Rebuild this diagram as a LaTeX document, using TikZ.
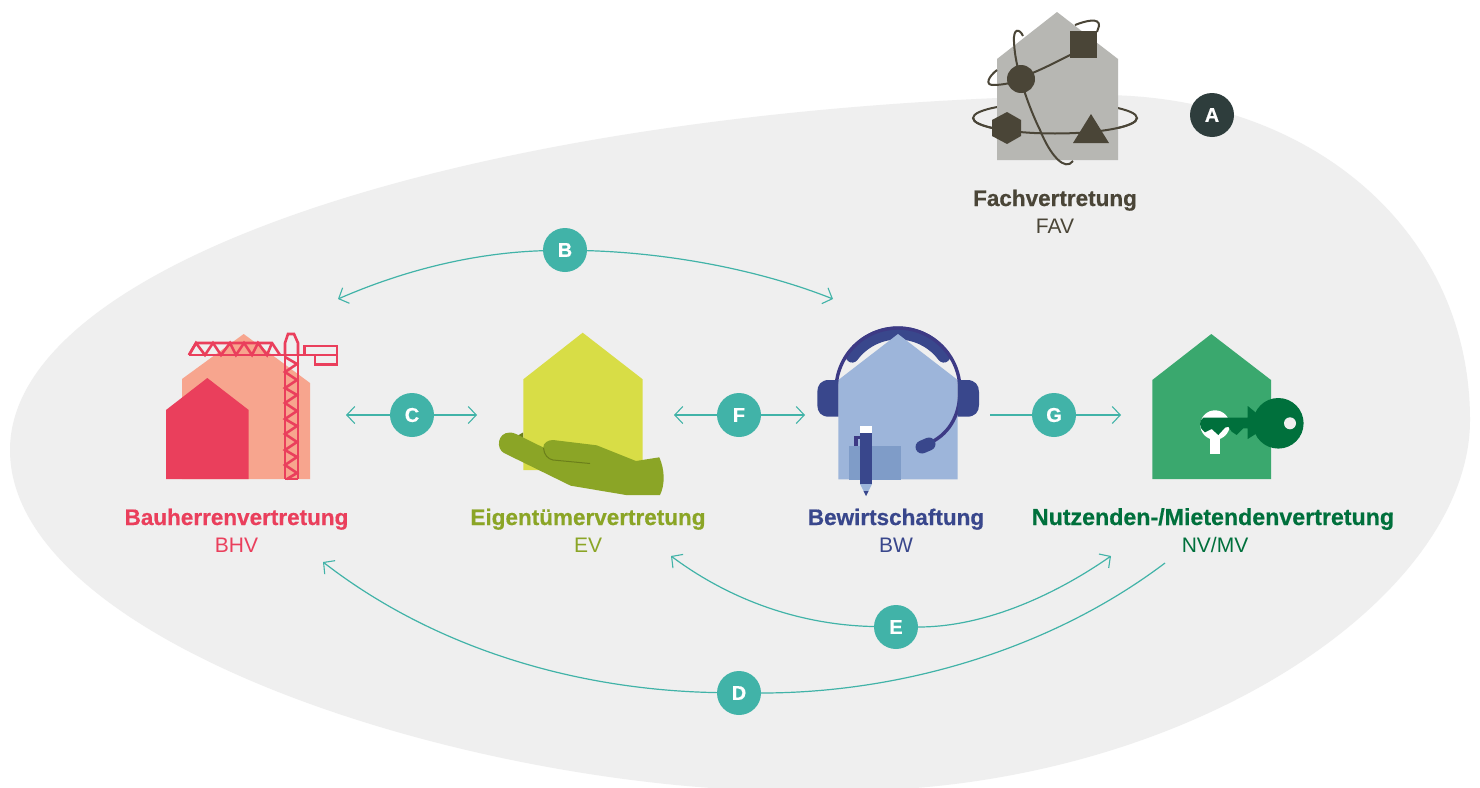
\documentclass[tikz,border=0pt]{standalone}
\usepackage{fontspec}
\setmainfont[BoldFeatures={FakeBold=0.5}]{Liberation Sans}
\usetikzlibrary{arrows.meta}
\definecolor{blob}{HTML}{EFEFEF}
\definecolor{teal1}{HTML}{41B3A8}
\definecolor{darkA}{HTML}{2E3D3C}
\definecolor{favhouse}{HTML}{B7B7B3}
\definecolor{favdark}{HTML}{4A4537}
\definecolor{bhvred}{HTML}{EA3F5C}
\definecolor{bhvsalmon}{HTML}{F7A58E}
\definecolor{evyellow}{HTML}{D8DD46}
\definecolor{evgreen}{HTML}{8BA526}
\definecolor{evdark}{HTML}{6B7F1A}
\definecolor{bwhouse}{HTML}{9DB5DA}
\definecolor{bwrect}{HTML}{7F9CC8}
\definecolor{bwdark}{HTML}{39478C}
\definecolor{bwline}{HTML}{3D3A85}
\definecolor{nvhouse}{HTML}{3AA86E}
\definecolor{nvdark}{HTML}{00703C}
\tikzset{
  link/.style={draw=teal1,line width=1.2pt},
  tipa/.style={-{Straight Barb[length=8pt,width=17pt,line width=1.1pt]}},
  letter/.style={circle,fill=teal1,minimum size=44pt,inner sep=0pt,text=white,font=\fontsize{20}{20}\selectfont\bfseries},
  title/.style={font=\fontsize{22.5}{24}\selectfont\bfseries,inner sep=0pt,anchor=base},
  abbr/.style={font=\fontsize{21}{24}\selectfont,inner sep=0pt,anchor=base},
  orbit/.style={draw=favdark,line width=2pt},
}
\begin{document}
\begin{tikzpicture}[x=1pt,y=-1pt]
\useasboundingbox (0,0) rectangle (1480,787);
\fill[white] (0,0) rectangle (1480,787);
\begin{scope}
\clip (0,0) rectangle (1480,787);
\fill[blob] (1100,95) .. controls (1310,95) and (1470,230) .. (1470,420)
  .. controls (1470,600) and (1180,795) .. (830,791)
  .. controls (500,800) and (10,650) .. (10,450)
  .. controls (10,260) and (480,105) .. (1100,95) -- cycle;
\end{scope}

% FAV icon
\draw[orbit] (1055,118) ellipse [x radius=82pt,y radius=15.5pt];
\draw[orbit] (1075,25) .. controls (1085,21) and (1100,17) .. (1099,26) -- (1097,32);
\fill[favhouse] (1057,12) -- (1118,59) -- (1118,160) -- (997,160) -- (997,59) -- cycle;
\begin{scope}
\clip (960,118) rectangle (1150,140);
\draw[orbit] (1055,118) ellipse [x radius=82pt,y radius=15.5pt];
\end{scope}
\draw[orbit] (997,70) .. controls (988,77) and (985,85) .. (993,85) .. controls (1000,85) and (1005,84) .. (1010,83);
\draw[orbit] (1030,74) .. controls (1045,68) and (1060,60) .. (1072,54);
\draw[orbit] (1023,36) .. controls (1020,29) and (1013,27) .. (1014,42)
  .. controls (1015,70) and (1030,110) .. (1040,130) .. controls (1050,155) and (1065,172) .. (1073,161);
\fill[favdark] (1070,31) rectangle (1097,58);
\fill[favdark] (1021,79) circle (14);
\fill[favdark] (1007,112) -- (1021,120) -- (1021,136) -- (1007,144) -- (992,136) -- (992,120) -- cycle;
\fill[favdark] (1091,114) -- (1109,143) -- (1073,143) -- cycle;
\node[title,text=favdark] (favt) at (1055,206) {Fachvertretung};
\node[abbr,text=favdark] (fava) at (1055,233) {FAV};

% BHV icon
\fill[bhvsalmon] (243.7,334) -- (310,383) -- (310,479) -- (182,479) -- (182,379) -- cycle;
\fill[bhvred] (207.3,378) -- (248.7,410) -- (248.7,479) -- (166,479) -- (166,410) -- cycle;
\begin{scope}[draw=bhvred,line width=2.6pt,line join=miter]
\draw (189,355) -- (305,355);
\draw (189,355) -- (196,343) -- (272,343) -- (280,355);
\draw (189,355) -- (196,343) -- (205,355) -- (213,343) -- (221,355) -- (230,343) -- (236,355) -- (244,343) -- (252,355) -- (258,343) -- (267,355) -- (272,343);
\draw (285,355) -- (285,343) -- (288,334) -- (294,334) -- (298,343) -- (298,355);
\draw (285,355) -- (285,479) (298,355) -- (298,479) (285,479) -- (298,479);
\draw (285,357) -- (297,364) -- (285,372) -- (297,380) -- (285,388) -- (297,395) -- (285,403) -- (297,411) -- (285,419) -- (297,426) -- (285,434) -- (297,442) -- (285,450) -- (297,457) -- (285,465) -- (297,473) -- (287,479);
\draw (304.3,346) rectangle (337,355);
\draw (315,355) rectangle (337,364.7);
\end{scope}
\node[title,text=bhvred] (bhvt) at (236.5,525) {Bauherrenvertretung};
\node[abbr,text=bhvred] (bhva) at (236.5,552) {BHV};

% EV icon
\fill[evyellow] (582.7,332.7) -- (642.7,379.3) -- (642.7,470) -- (523.3,470) -- (523.3,379.3) -- cycle;
\fill[evdark] (517,436) -- (523,432.5) -- (523,438) -- cycle;
\fill[evgreen] (510,432.5) .. controls (512,432.5) and (514,433) .. (516,434)
  -- (543.3,447.5) .. controls (543,443) and (548,440) .. (553,440)
  -- (596.7,445.3) -- (636,461) -- (659.3,457.3)
  .. controls (665,470) and (665,485) .. (660,495)
  -- (626,495) -- (570.7,485.7) -- (504,453)
  .. controls (496,449) and (497,432.5) .. (510,432.5) -- cycle;
\draw[evdark,line width=1pt] (543.5,448) .. controls (544,455) and (548,459) .. (553,460) -- (590,463.5);

% BW icon
\begin{scope}[x=1pt,y=1pt,shift={(898pt,-390pt)}]
\draw[bwdark,line width=13pt,line cap=round] (143.5:57pt) arc[start angle=143.5,end angle=36.5,radius=57pt];
\end{scope}
\fill[bwhouse] (898,334) -- (957.7,380) -- (957.7,479.3) -- (838.3,479.3) -- (838.3,380) -- cycle;
\fill[bwrect] (849,446) rectangle (901,480);
\begin{scope}[x=1pt,y=1pt,shift={(898pt,-390pt)}]
\draw[bwline,line width=3.4pt] (180:62pt) arc[start angle=180,end angle=0,radius=62pt];
\end{scope}
\draw[bwline,line width=3.4pt] (960,390) .. controls (960,412) and (952,432) .. (930,443);
\draw[bwdark,line width=13pt,line cap=round] (922,447) -- (929,444);
\fill[bwdark] (838.3,380) -- (838.3,416.7) -- (829,416.7) .. controls (821,416.7) and (817.3,412) .. (817.3,405)
  -- (817.3,392) .. controls (817.3,385) and (821,380) .. (829,380) -- cycle;
\fill[bwdark] (957.7,380) -- (957.7,416.7) -- (967,416.7) .. controls (975,416.7) and (979,412) .. (979,405)
  -- (979,392) .. controls (979,385) and (975,380) .. (967,380) -- cycle;
\fill[bwline] (854.3,436) rectangle (860,438.5);
\fill[bwline] (854.3,436) rectangle (858.3,446);
\fill[white] (860,426) rectangle (872,433);
\fill[bwdark] (860,433) rectangle (872,484);
\fill[bwhouse] (860,484) -- (872,484) -- (866,496) -- cycle;
\fill[bwdark] (863.5,491) -- (868.5,491) -- (866,496) -- cycle;

% NV icon
\fill[nvhouse] (1211.3,334) -- (1271,380) -- (1271,479) -- (1152.3,479) -- (1152.3,380) -- cycle;
\fill[white] (1215,425) circle (14.7);
\fill[white] (1210,430) rectangle (1220,454.3);
\fill[nvdark] (1278.3,423.3) circle (25.3);
\fill[nvdark] (1203.3,417.7) -- (1247.7,417.7) -- (1247.7,406) -- (1256.7,413.3) -- (1256.7,433.3) -- (1247.7,439)
  -- (1247.7,428.3) -- (1243.3,428.3) -- (1236.7,435) -- (1231.7,431.7) -- (1228.3,426.7) -- (1225,427.7)
  -- (1218.3,435) -- (1211.7,429) -- (1205,432.3) .. controls (1201,429) and (1200,427) .. (1200,424) .. controls (1200,421) and (1201,419) .. (1203.3,417.7) -- cycle;
\fill[blob] (1290,423.3) circle (6);

% labels
\node[title,text=evgreen] (evt) at (588,525) {Eigentümervertretung};
\node[abbr,text=evgreen] (eva) at (588,552) {EV};
\node[title,text=bwdark] (bwt) at (896,525) {Bewirtschaftung};
\node[abbr,text=bwdark] (bwa) at (896,552) {BW};
\node[title,text=nvdark,font=\fontsize{23.2}{24}\selectfont\bfseries] (nvt) at (1213,525) {Nutzenden-/Mietendenvertretung};
\node[abbr,text=nvdark] (nva) at (1215,552) {NV/MV};

% letter nodes
\node[letter,fill=darkA] (A) at (1212,115) {A};
\node[letter] (B) at (565,250) {B};
\node[letter] (C) at (412,415) {C};
\node[letter] (D) at (739,693) {D};
\node[letter] (E) at (896,627) {E};
\node[letter] (F) at (739,415) {F};
\node[letter] (G) at (1054,415) {G};

% connector ends
\coordinate (bl) at (338,299);
\coordinate (br) at (833,299);
\coordinate (cl) at (346,415);
\coordinate (cr) at (477,415);
\coordinate (dl) at (323,562);
\coordinate (dr) at (1165,563);
\coordinate (el) at (671,556);
\coordinate (er) at (1111,556);
\coordinate (fl) at (674,415);
\coordinate (fr) at (805,415);
\coordinate (gl) at (990,415);
\coordinate (gr) at (1121,415);

\draw[link,tipa] (B) .. controls (470,253) and (400,272) .. (bl);
\draw[link,tipa] (B) .. controls (670,253) and (760,270) .. (br);
\draw[link,tipa] (C) -- (cl);
\draw[link,tipa] (C) -- (cr);
\draw[link,tipa] (D) .. controls (570,690) and (430,645) .. (dl);
\draw[link] (D) .. controls (900,693) and (1050,650) .. (dr);
\draw[link,tipa] (E) .. controls (800,625) and (730,600) .. (el);
\draw[link,tipa] (E) .. controls (985,627) and (1055,595) .. (er);
\draw[link,tipa] (F) -- (fl);
\draw[link,tipa] (F) -- (fr);
\draw[link] (G) -- (gl);
\draw[link,tipa] (G) -- (gr);
\end{tikzpicture}
\end{document}
